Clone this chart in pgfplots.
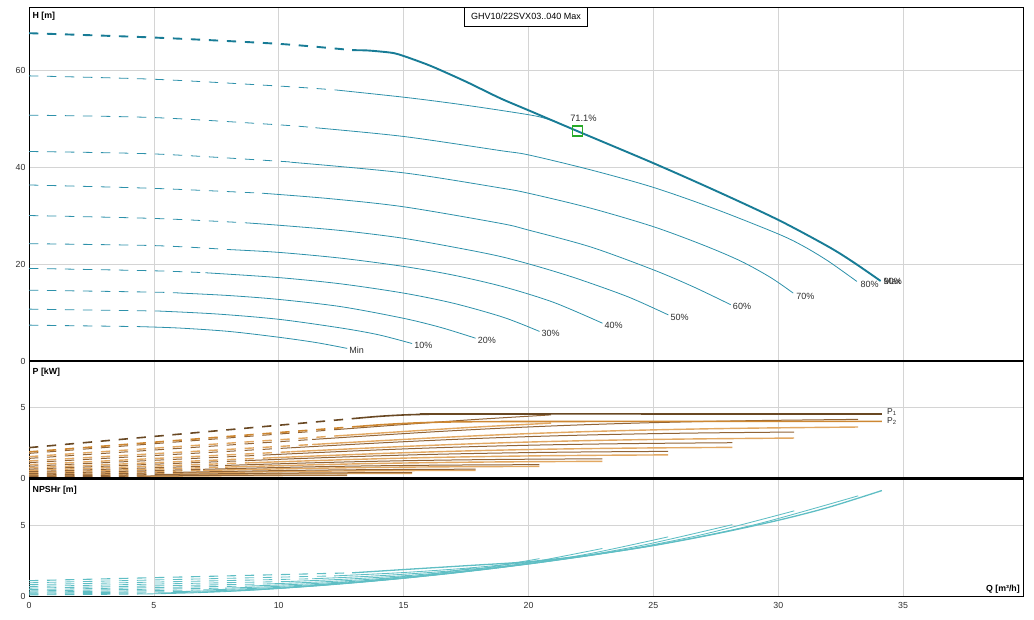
\documentclass[border=0pt]{standalone}
\usepackage{fontspec}
\setmainfont{Liberation Sans}
\usepackage{pgfplots}
\pgfplotsset{compat=1.18}
\definecolor{hthick}{RGB}{24,124,150}
\definecolor{hthin}{RGB}{45,145,170}
\definecolor{pone}{RGB}{105,72,35}
\definecolor{ptwo}{RGB}{205,135,50}
\definecolor{ponethin}{RGB}{145,100,55}
\definecolor{ptwothin}{RGB}{226,168,98}
\definecolor{npsh}{RGB}{95,190,196}
\definecolor{gridgray}{RGB}{212,212,212}
\definecolor{labelgray}{RGB}{45,45,45}
\definecolor{mgreen}{RGB}{40,170,40}
\pgfplotsset{
  base/.style={
    scale only axis, width=994pt, xmin=0, xmax=39.8,
    axis line style={line width=0.8pt, black},
    grid=major, major grid style={line width=0.6pt, color=gridgray},
    major tick length=0pt, minor tick num=0,
    xtick={0,5,...,35},
    tick label style={font=\fontsize{8.8}{10}\selectfont, text=labelgray},
    /pgf/number format/assume math mode=true,
    clip mode=individual,
  },
}
\tikzset{
  dpat/.style={dash pattern=on 9.3pt off 8.7pt},
  hc/.style={color=hthin, line width=0.8pt, smooth},
  hd/.style={hc, dpat},
  p1/.style={color=ponethin, line width=1.0pt, smooth},
  p1d/.style={p1, dpat},
  p2/.style={color=ptwothin, line width=1.4pt, smooth},
  p2d/.style={p2, dpat},
  nc/.style={color=npsh, line width=0.85pt, smooth},
  nd/.style={nc, dpat},
  lab/.style={anchor=west, font=\fontsize{9}{10}\selectfont, text=labelgray, inner sep=0pt, xshift=2pt, yshift=-2pt},
  ttl/.style={anchor=north west, font=\bfseries\fontsize{8.8}{10}\selectfont, inner sep=0pt, xshift=3.5pt},
}
\begin{document}
\begin{tikzpicture}
\path[use as bounding box] (0,0) rectangle (1034pt,619pt);
% ---------------- H panel ----------------
\begin{axis}[base, name=top, at={(29pt,258pt)}, anchor=south west, height=354pt,
  ymin=0, ymax=73, ytick={0,20,40,60}, xticklabels={}]
% Min
\addplot[hd] coordinates {(0,7.4) (4.33,7.1)};
\addplot[hc] coordinates {(4.33,7.1) (6,6.8) (8,6.1) (10,4.9) (11.5,3.8) (12.74,2.6)};
% 10%
\addplot[hd] coordinates {(0,10.7) (5.2,10.3)};
\addplot[hc] coordinates {(5.2,10.3) (7.5,9.7) (10,8.6) (12.5,6.8) (14,5.4) (15.34,3.6)};
% 20%
\addplot[hd] coordinates {(0,14.6) (5,14.2) (6.1,14.0)};
\addplot[hc] coordinates {(6.1,14.0) (8,13.5) (10,12.7) (12.5,11.2) (15,8.8) (16.5,6.9) (17.88,4.7)};
% 30%
\addplot[hd] coordinates {(0,19.1) (5,18.6) (7.06,18.2)};
\addplot[hc] coordinates {(7.06,18.2) (10,17.2) (12.5,15.9) (15,14.0) (17,11.9) (19,9.0) (20.44,6.1)};
% 40%
\addplot[hd] coordinates {(0,24.2) (5,23.8) (7.93,23.0)};
\addplot[hc] coordinates {(7.93,23.0) (10,22.4) (12.5,21.2) (15,19.5) (17,17.7) (19,15.3) (21,12.1) (22.96,7.8)};
% 50%
\addplot[hd] coordinates {(0,30.0) (5,29.4) (8.66,28.5)};
\addplot[hc] coordinates {(8.66,28.5) (10,28.0) (12.5,26.9) (15,25.3) (17.5,23.0) (19,21.4) (20.5,19.3) (22,16.9) (24,13.2) (25.6,9.5)};
% 60%
\addplot[hd] coordinates {(0,36.3) (5,35.6) (9.33,34.6)};
\addplot[hc] coordinates {(9.33,34.6) (12,33.5) (15,31.8) (18.86,28.4) (20,27.0) (22.5,23.5) (25,18.8) (26.6,15.3) (28.1,11.6)};
% 70%
\addplot[hd] coordinates {(0,43.2) (5,42.7) (10,41.2) (10.47,41.0)};
\addplot[hc] coordinates {(10.47,41.0) (15,38.8) (18.86,35.7) (20,34.6) (22.5,31.5) (25,27.7) (27,23.9) (28.5,20.6) (29.7,17.2) (30.6,14.0)};
% 80%
\addplot[hd] coordinates {(0,50.7) (5,50.2) (10,48.7) (11.47,48.1)};
\addplot[hc] coordinates {(11.47,48.1) (15,46.3) (18.86,43.4) (20,42.5) (22.5,39.4) (25,35.8) (27.5,31.3) (30,26.2) (31,23.7) (32,20.6) (33.15,16.4)};
% 90%
\addplot[hd] coordinates {(0,58.8) (5,58.1) (10,56.7) (12.27,55.9)};
\addplot[hc] coordinates {(12.27,55.9) (15,54.4) (17,53.1) (19,51.6) (20.4,50.4) (21.2,49.1)};
% Max
\addplot[color=hthick, line width=1.9pt, smooth, dpat] coordinates {(0,67.6) (5,66.7) (10,65.4) (12.94,64.1)};
\addplot[color=hthick, line width=1.9pt, smooth] coordinates {(12.94,64.1) (13.5,64.05) (14,63.85) (14.6,63.5) (15,62.9) (15.6,61.8) (16.2,60.6) (17.5,57.6) (18.86,54.2) (20,51.7) (21.96,47.4) (25,40.8) (27.5,35.1) (30,29.1) (32,23.6) (33,20.4) (34.1,16.5)};
% duty point
\addplot[only marks, mark=square, mark size=5pt, mark options={color=mgreen, line width=1.3pt}] coordinates {(21.96,47.4)};
\node[font=\fontsize{9.3}{10}\selectfont, text=labelgray] at (axis cs:22.2,50.1) {71.1\%};
% curve labels
\node[lab] at (axis cs:12.74,2.6) {Min};
\node[lab] at (axis cs:15.34,3.6) {10\%};
\node[lab] at (axis cs:17.88,4.7) {20\%};
\node[lab] at (axis cs:20.44,6.1) {30\%};
\node[lab] at (axis cs:22.96,7.8) {40\%};
\node[lab] at (axis cs:25.6,9.5) {50\%};
\node[lab] at (axis cs:28.1,11.6) {60\%};
\node[lab, xshift=1pt, yshift=-1pt] at (axis cs:30.6,14.0) {70\%};
\node[lab, xshift=1.5pt, yshift=-1pt] at (axis cs:33.15,16.4) {80\%};
\node[lab, xshift=1pt, yshift=2pt] at (axis cs:34.1,16.5) {90\%};
\node[lab, xshift=1pt, yshift=2pt] at (axis cs:34.1,16.5) {Max};
\node[ttl, yshift=-4.5pt] at (rel axis cs:0,1) {H [m]};
\node[anchor=north, draw=black, line width=0.6pt, fill=white, font=\fontsize{9}{10}\selectfont,
  inner xsep=6.5pt, minimum height=18.7pt] at (rel axis cs:0.5,1) {GHV10/22SVX03..040 Max};
\end{axis}
% ---------------- P panel ----------------
\begin{axis}[base, name=mid, at={(29pt,140.7pt)}, anchor=south west, height=117.3pt,
  ymin=0, ymax=8.26, ytick={0,5}, xticklabels={}]
% P2 thin
\addplot[p2d] coordinates {(0,0.068) (4.34,0.133)};
\addplot[p2] coordinates {(4.34,.133)(5.30,.147)(6.29,.160)(7.28,.172)(8.28,.181)(9.27,.189)(10.26,.194)(11.25,.197)(12.74,.202)};
\addplot[p2d] coordinates {(0,.118)(5.21,.231)};
\addplot[p2] coordinates {(5.21,.231)(6.37,.255)(7.56,.278)(8.76,.299)(9.95,.315)(11.14,.328)(12.34,.338)(13.53,.344)(15.34,.351)};
\addplot[p2d] coordinates {(0,.189)(6.09,.368)};
\addplot[p2] coordinates {(6.09,.368)(7.44,.407)(8.84,.445)(10.23,.477)(11.63,.503)(13.02,.523)(14.42,.538)(15.81,.548)(17.88,.559)};
\addplot[p2d] coordinates {(0,.283)(6.97,.552)};
\addplot[p2] coordinates {(6.97,.552)(8.51,.609)(10.11,.666)(11.70,.714)(13.30,.753)(14.90,.783)(16.49,.806)(18.09,.821)(20.44,.837)};
\addplot[p2d] coordinates {(0,.404)(7.85,.787)};
\addplot[p2] coordinates {(7.85,.787)(9.58,.869)(11.38,.950)(13.18,1.019)(14.98,1.075)(16.77,1.118)(18.57,1.150)(20.37,1.173)(22.96,1.195)};
\addplot[p2d] coordinates {(0,.558)(8.74,1.087)};
\addplot[p2] coordinates {(8.74,1.087)(10.67,1.201)(12.67,1.311)(14.67,1.407)(16.68,1.484)(18.68,1.543)(20.68,1.588)(22.68,1.619)(25.59,1.650)};
\addplot[p2d] coordinates {(0,.737)(9.59,1.436)};
\addplot[p2] coordinates {(9.59,1.436)(11.71,1.587)(13.91,1.734)(16.10,1.860)(18.30,1.962)(20.50,2.041)(22.69,2.098)(24.89,2.139)(28.16,2.180)};
\addplot[p2d] coordinates {(0,.959)(10.47,1.868)};
\addplot[p2] coordinates {(10.47,1.868)(12.78,2.064)(15.18,2.254)(17.58,2.419)(19.98,2.552)(22.37,2.654)(24.77,2.729)(27.17,2.782)(30.64,2.835)};
\addplot[p2d] coordinates {(0,1.221)(11.34,2.379)};
\addplot[p2] coordinates {(11.34,2.379)(13.86,2.627)(16.45,2.870)(19.05,3.080)(21.65,3.249)(24.25,3.379)(26.85,3.475)(29.44,3.543)(33.2,3.611)};
\addplot[p2d] coordinates {(0,1.526)(12.22,2.975)};
\addplot[p2] coordinates {(12.22,2.975)(14.93,3.286)(17.73,3.590)(20.53,3.851)(20.9,3.89)};
% P1 thin
\addplot[p1d] coordinates {(0,0.078) (4.34,0.153)};
\addplot[p1] coordinates {(4.34,.153)(5.30,.169)(6.29,.184)(7.28,.198)(8.28,.208)(9.27,.217)(10.26,.223)(11.25,.227)(12.74,.232)};
\addplot[p1d] coordinates {(0,.136)(5.21,.265)};
\addplot[p1] coordinates {(5.21,.265)(6.37,.293)(7.56,.320)(8.76,.344)(9.95,.362)(11.14,.377)(12.34,.388)(13.53,.395)(15.34,.403)};
\addplot[p1d] coordinates {(0,.217)(6.09,.423)};
\addplot[p1] coordinates {(6.09,.423)(7.44,.468)(8.84,.511)(10.23,.548)(11.63,.578)(13.02,.601)(14.42,.618)(15.81,.630)(17.88,.642)};
\addplot[p1d] coordinates {(0,.325)(6.97,.634)};
\addplot[p1] coordinates {(6.97,.634)(8.51,.700)(10.11,.765)(11.70,.821)(13.30,.866)(14.90,.900)(16.49,.926)(18.09,.944)(20.44,.962)};
\addplot[p1d] coordinates {(0,.464)(7.85,.905)};
\addplot[p1] coordinates {(7.85,.905)(9.58,.999)(11.38,1.092)(13.18,1.171)(14.98,1.236)(16.77,1.285)(18.57,1.322)(20.37,1.348)(22.96,1.373)};
\addplot[p1d] coordinates {(0,.641)(8.74,1.249)};
\addplot[p1] coordinates {(8.74,1.249)(10.67,1.380)(12.67,1.507)(14.67,1.617)(16.68,1.706)(18.68,1.774)(20.68,1.825)(22.68,1.861)(25.59,1.896)};
\addplot[p1d] coordinates {(0,.847)(9.59,1.651)};
\addplot[p1] coordinates {(9.59,1.651)(11.71,1.824)(13.91,1.993)(16.10,2.138)(18.30,2.255)(20.50,2.346)(22.69,2.412)(24.89,2.459)(28.16,2.506)};
\addplot[p1d] coordinates {(0,1.102)(10.47,2.147)};
\addplot[p1] coordinates {(10.47,2.147)(12.78,2.372)(15.18,2.591)(17.58,2.780)(19.98,2.933)(22.37,3.050)(24.77,3.137)(27.17,3.198)(30.64,3.259)};
\addplot[p1d] coordinates {(0,1.403)(11.34,2.734)};
\addplot[p1] coordinates {(11.34,2.734)(13.86,3.020)(16.45,3.299)(19.05,3.540)(21.65,3.734)(24.25,3.884)(26.85,3.994)(29.44,4.072)(33.2,4.150)};
\addplot[p1d] coordinates {(0,1.754)(12.22,3.419)};
\addplot[p1] coordinates {(12.22,3.419)(14.93,3.777)(17.73,4.126)(20.53,4.426)(20.9,4.47)};
% Max P2 and P1
\addplot[color=ptwo, line width=1.6pt, smooth, dpat] coordinates {(0,1.86)(12.94,3.62)};
\addplot[color=ptwo, line width=1.6pt, smooth] coordinates {(12.94,3.62)(14,3.76)(15,3.86)(16,3.93)(17,3.97)(20,4.0)(34.15,4.01)};
\addplot[color=pone, line width=1.6pt, smooth, dpat] coordinates {(0,2.16)(12.94,4.2)};
\addplot[color=pone, line width=1.6pt, smooth] coordinates {(12.94,4.2)(14,4.36)(15,4.46)(16,4.51)(17,4.53)(34.15,4.53)};
\node[anchor=west, inner sep=0pt, font=\fontsize{8.5}{9}\selectfont, text=labelgray] at (axis cs:34.35,4.66) {P\textsubscript{1}};
\node[anchor=west, inner sep=0pt, font=\fontsize{8.5}{9}\selectfont, text=labelgray] at (axis cs:34.35,4.05) {P\textsubscript{2}};
\node[ttl, yshift=-6.5pt] at (rel axis cs:0,1) {P [kW]};
\end{axis}
% ---------------- NPSH panel ----------------
\begin{axis}[base, name=bot, at={(29pt,22.3pt)}, anchor=south west, height=117.7pt,
  ymin=0, ymax=8.24, ytick={0,5},
  xticklabel style={yshift=-2.5pt}]
\addplot[nd] coordinates {(0,.123)(4.34,.183)};
\addplot[nc] coordinates {(4.34,.183)(5.30,.212)(6.29,.255)(7.28,.314)(8.28,.392)(9.27,.491)(10.26,.613)(11.25,.761)(12.74,1.032)};
\addplot[nd] coordinates {(0,.177)(5.21,.265)};
\addplot[nc] coordinates {(5.21,.265)(6.37,.307)(7.56,.369)(8.76,.454)(9.95,.567)(11.14,.709)(12.34,.886)(13.53,1.101)(15.34,1.491)};
\addplot[nd] coordinates {(0,.242)(6.09,.362)};
\addplot[nc] coordinates {(6.09,.362)(7.44,.419)(8.84,.504)(10.23,.620)(11.63,.773)(13.02,.968)(14.42,1.209)(15.81,1.502)(17.88,2.035)};
\addplot[nd] coordinates {(0,.317)(6.97,.473)};
\addplot[nc] coordinates {(6.97,.473)(8.51,.548)(10.11,.659)(11.70,.812)(13.30,1.012)(14.90,1.267)(16.49,1.583)(18.09,1.966)(20.44,2.664)};
\addplot[nd] coordinates {(0,.402)(7.85,.600)};
\addplot[nc] coordinates {(7.85,.600)(9.58,.695)(11.38,.836)(13.18,1.029)(14.98,1.283)(16.77,1.607)(18.57,2.007)(20.37,2.493)(22.96,3.377)};
\addplot[nd] coordinates {(0,.498)(8.74,.744)};
\addplot[nc] coordinates {(8.74,.744)(10.67,.861)(12.67,1.036)(14.67,1.276)(16.68,1.591)(18.68,1.992)(20.68,2.489)(22.68,3.091)(25.59,4.188)};
\addplot[nd] coordinates {(0,.600)(9.59,.896)};
\addplot[nc] coordinates {(9.59,.896)(11.71,1.037)(13.91,1.248)(16.10,1.537)(18.30,1.917)(20.50,2.399)(22.69,2.997)(24.89,3.723)(28.16,5.043)};
\addplot[nd] coordinates {(0,.715)(10.47,1.068)};
\addplot[nc] coordinates {(10.47,1.068)(12.78,1.236)(15.18,1.487)(17.58,1.832)(19.98,2.284)(22.37,2.859)(24.77,3.571)(27.17,4.436)(30.64,6.009)};
\addplot[nd] coordinates {(0,.840)(11.34,1.255)};
\addplot[nc] coordinates {(11.34,1.255)(13.86,1.452)(16.45,1.747)(19.05,2.152)(21.65,2.683)(24.25,3.359)(26.85,4.196)(29.44,5.211)(33.2,7.060)};
\addplot[nd] coordinates {(0,.975)(12.22,1.456)};
\addplot[nc] coordinates {(12.22,1.456)(14.93,1.685)(17.73,2.027)(20.53,2.497)(20.9,2.571)};
\addplot[nd, line width=1.1pt] coordinates {(0,1.12)(12.94,1.67)};
\addplot[nc, line width=1.3pt] coordinates {(12.94,1.67)(15,1.9)(17.5,2.17)(20,2.45)(22.5,2.93)(25,3.58)(27.5,4.4)(30,5.35)(32,6.25)(34.15,7.43)};
\node[ttl, yshift=-6.5pt] at (rel axis cs:0,1) {NPSHr [m]};
\node[anchor=south east, inner sep=0pt, xshift=-3pt, yshift=3pt, font=\bfseries\fontsize{8.8}{10}\selectfont] at (rel axis cs:1,0) {Q [m³/h]};
\end{axis}
\draw[line width=1.7pt] (top.south west) -- (top.south east);
\draw[line width=1.7pt] (mid.south west) -- (mid.south east);
\end{tikzpicture}
\end{document}
